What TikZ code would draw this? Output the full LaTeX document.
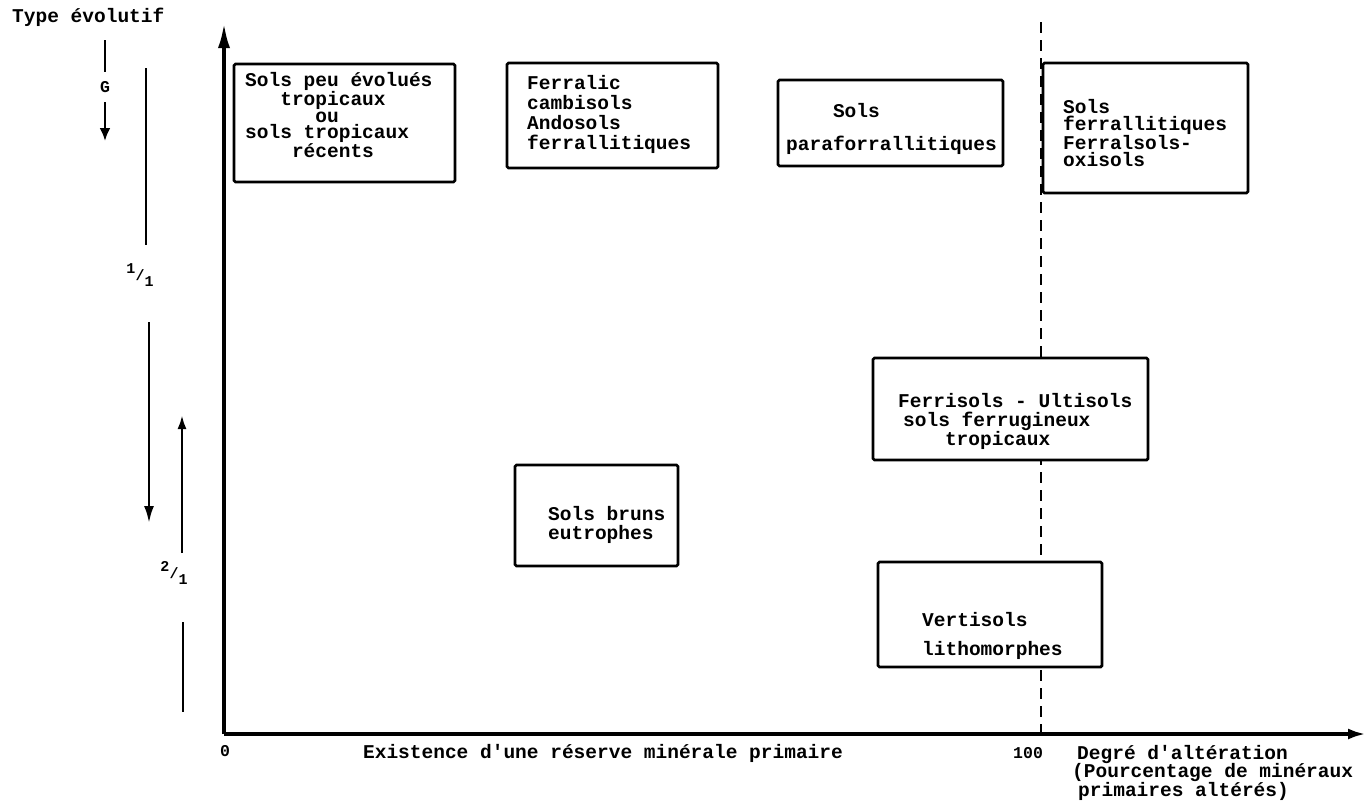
\documentclass[tikz,border=0pt]{standalone}
\usepackage{fontspec}
\newfontfamily\twfont{Liberation Mono}
\usetikzlibrary{arrows.meta}
\tikzset{
  axisline/.style={line width=4pt},
  soilbox/.style={draw, line width=2.8pt, fill=white, rounded corners=1.5pt, inner sep=0pt},
  sideline/.style={line width=2.6pt},
  altline/.style={line width=2.4pt, dash pattern=on 11pt off 7pt},
  tw/.style={font={\twfont\bfseries\fontsize{19.5}{#1}\selectfont}, inner sep=0pt, align=left},
  tw/.default=19.5,
  small/.style={font={\twfont\bfseries\fontsize{16.5}{16.5}\selectfont}, inner sep=0pt},
  frac/.style={font={\twfont\bfseries\fontsize{15}{15}\selectfont}, inner sep=0pt},
}
\begin{document}
\begin{tikzpicture}[x=1pt,y=-1pt]
\useasboundingbox (0,0) rectangle (1368,806);
% axes
\coordinate (O) at (224,734);
\coordinate (ytip) at (224,22);
\coordinate (xtip) at (1366,734);
\coordinate (dtop) at (1041,22);
\coordinate (dbot) at (1041,740);
\draw[altline] (dtop) -- (dbot);
\draw[axisline, -{Latex[length=26pt,width=12pt]}] (O) -- (ytip);
\draw[axisline, -{Latex[length=18pt,width=11pt]}] (O) -- (xtip);

% left indicators
\node[tw, anchor=west] (type) at (12,17) {Type évolutif};
\coordinate (g1) at (105,40);
\coordinate (g2) at (105,72);
\node[small] (G) at (105,87) {G};
\coordinate (g3) at (105,102);
\coordinate (g4) at (105,141);
\draw[sideline] (g1) -- (g2);
\draw[sideline, -{Latex[length=13pt,width=11pt]}] (g3) -- (g4);

\coordinate (a1) at (146,68);
\coordinate (a2) at (146,245);
\node[frac] (f1) at (140,275) {\raisebox{7pt}{1}/\raisebox{-6pt}{1}};
\coordinate (a3) at (149,322);
\coordinate (a4) at (149,523);
\draw[sideline] (a1) -- (a2);
\draw[sideline, -{Latex[length=17pt,width=10pt]}] (a3) -- (a4);

\coordinate (c1) at (182,553);
\coordinate (c2) at (182,415);
\node[frac] (f2) at (174,573) {\raisebox{7pt}{2}/\raisebox{-6pt}{1}};
\coordinate (c3) at (183,622);
\coordinate (c4) at (183,712);
\draw[sideline, -{Latex[length=14pt,width=9pt]}] (c1) -- (c2);
\draw[sideline] (c3) -- (c4);

% boxes
\node[soilbox, minimum width=221pt, minimum height=118pt] (b1) at (344.5,123) {};
\node[tw=16.8, anchor=west] (t1) at (245,115) {Sols peu évolués\\\hspace*{1.8em}tropicaux\\\hspace*{3.6em}ou\\sols tropicaux\\\hspace*{2.4em}récents};

\node[soilbox, minimum width=211pt, minimum height=105pt] (b2) at (612.5,115.5) {};
\node[tw=20, anchor=west] (t2) at (527,114) {Ferralic\\cambisols\\Andosols\\ferrallitiques};

\node[soilbox, minimum width=225pt, minimum height=86pt] (b3) at (890.5,123) {};
\node[tw=33.5, anchor=west] (t3) at (786,129) {\hspace*{2.4em}Sols\\paraforrallitiques};

\node[soilbox, minimum width=205pt, minimum height=130pt] (b4) at (1145.5,128) {};
\node[tw=17, anchor=west] (t4) at (1063,133) {Sols\\ferrallitiques\\Ferralsols-\\oxisols};

\node[soilbox, minimum width=275pt, minimum height=102pt] (b5) at (1010.5,409) {};
\node[tw=19, anchor=west] (t5) at (898,421) {Ferrisols - Ultisols\\\hspace*{5pt}sols ferrugineux\\\hspace*{2.4em}tropicaux};

\node[soilbox, minimum width=163pt, minimum height=101pt] (b6) at (596.5,515.5) {};
\node[tw=19, anchor=west] (t6) at (548,525) {Sols bruns\\eutrophes};

\node[soilbox, minimum width=224pt, minimum height=105pt] (b7) at (990,614.5) {};
\node[tw=29, anchor=west] (t7) at (922,636) {Vertisols\\lithomorphes};

% axis labels
\node[small] (zero) at (225,751) {0};
\node[tw] (xlab) at (603,753) {Existence d'une réserve minérale primaire};
\node[small, anchor=west] (hundred) at (1013,753) {100};
\node[tw=18.5, anchor=north west] (deg) at (1072,745) {\hspace*{5pt}Degré d'altération\\(Pourcentage de minéraux\\\hspace*{6pt}primaires altérés)};
\end{tikzpicture}
\end{document}
